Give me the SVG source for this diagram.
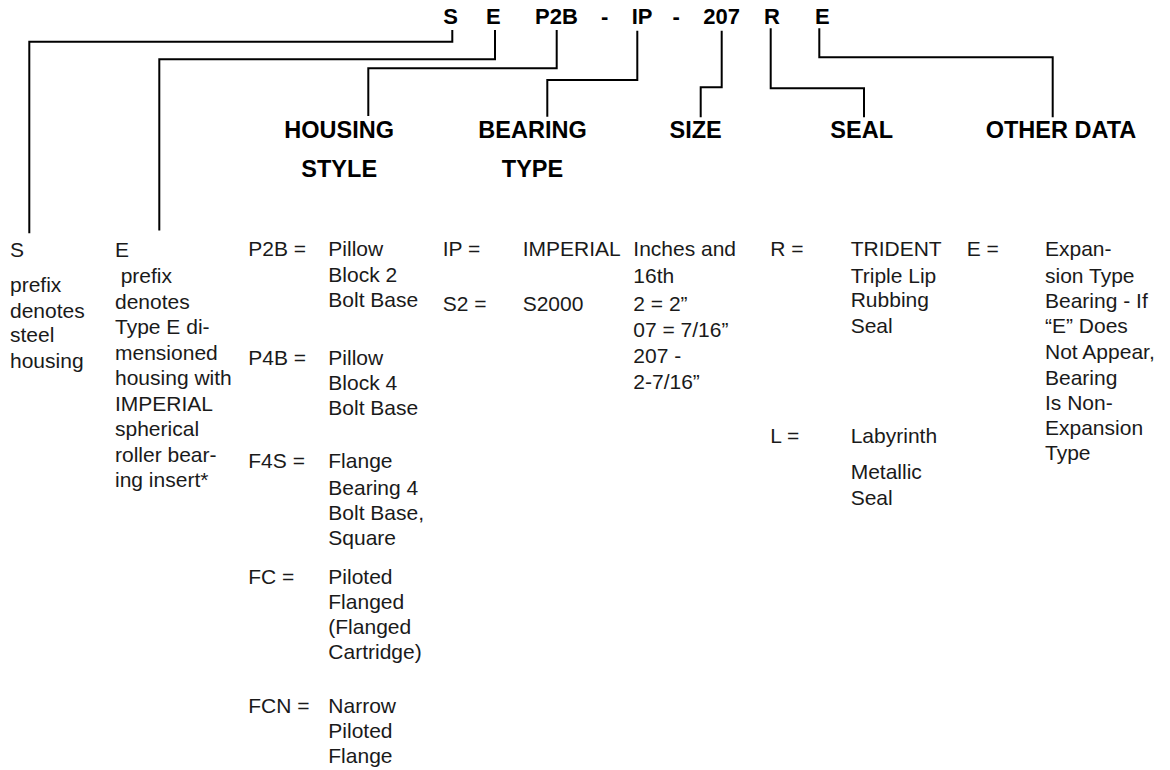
<svg xmlns="http://www.w3.org/2000/svg" width="1170" height="770" viewBox="0 0 1170 770">
<style>
.code{font-family:"Liberation Sans",Arial,sans-serif;font-weight:bold;font-size:22px;fill:#000}
.hd{font-family:"Liberation Sans",Arial,sans-serif;font-weight:bold;font-size:23.5px;fill:#000;text-anchor:middle}
.tx{font-family:"Liberation Sans",Arial,sans-serif;font-size:21px;fill:#1a1a1a}
.ln{fill:none;stroke:#000;stroke-width:2}
</style>
<rect width="1170" height="770" fill="#fff"/>
<g id="code">
<text class="code" x="443.3" y="24">S</text>
<text class="code" x="486" y="24">E</text>
<text class="code" x="535" y="24">P2B</text>
<text class="code" x="601" y="24">-</text>
<text class="code" x="631.7" y="24">IP</text>
<text class="code" x="672.5" y="24">-</text>
<text class="code" x="703.3" y="24">207</text>
<text class="code" x="764" y="24">R</text>
<text class="code" x="815" y="24">E</text>
</g>
<g id="connectors">
<path class="ln" d="M452.3,30 V41.7 H29.3 V233.3"/>
<path class="ln" d="M495,30 V59.3 H159.3 V230.5"/>
<path class="ln" d="M556.7,30 V68.3 H368.3 V116"/>
<path class="ln" d="M637.3,30.7 V80 H547.3 V116.7"/>
<path class="ln" d="M721.7,30.7 V87.3 H700.7 V117.3"/>
<path class="ln" d="M770.7,28.3 V88.3 H864 V117.3"/>
<path class="ln" d="M819.3,28.3 V57.3 H1052.7 V117.3"/>
</g>
<g id="hdr-housing"><text class="hd" x="339.2" y="138">HOUSING</text><text class="hd" x="339.2" y="177">STYLE</text></g>
<g id="hdr-bearing"><text class="hd" x="532.5" y="138">BEARING</text><text class="hd" x="532.5" y="177">TYPE</text></g>
<g id="hdr-size"><text class="hd" x="695.6" y="138">SIZE</text></g>
<g id="hdr-seal"><text class="hd" x="861.7" y="138">SEAL</text></g>
<g id="hdr-other"><text class="hd" x="1061" y="138">OTHER DATA</text></g>
<g id="col-s" class="tx">
<text class="tx" x="10" y="256.7">S</text>
<text class="tx" x="10" y="292.3">prefix</text>
<text class="tx" x="10" y="317.7">denotes</text>
<text class="tx" x="10" y="342.3">steel</text>
<text class="tx" x="10" y="367.7">housing</text>
</g>
<g id="col-e">
<text class="tx" x="115" y="256.7">E</text>
<text class="tx" x="120.7" y="283.3">prefix</text>
<text class="tx" x="115" y="308.8">denotes</text>
<text class="tx" x="115" y="334.3">Type E di-</text>
<text class="tx" x="115" y="359.8">mensioned</text>
<text class="tx" x="115" y="385.3">housing with</text>
<text class="tx" x="115" y="410.8">IMPERIAL</text>
<text class="tx" x="115" y="436.3">spherical</text>
<text class="tx" x="115" y="461.8">roller bear-</text>
<text class="tx" x="115" y="487.3">ing insert*</text>
</g>
<g id="col-housing">
<text class="tx" x="248.3" y="256">P2B =</text>
<text class="tx" x="328.3" y="256">Pillow</text>
<text class="tx" x="328.3" y="281.7">Block 2</text>
<text class="tx" x="328.3" y="307.3">Bolt Base</text>
<text class="tx" x="248.3" y="365">P4B =</text>
<text class="tx" x="328.3" y="365">Pillow</text>
<text class="tx" x="328.3" y="390">Block 4</text>
<text class="tx" x="328.3" y="415">Bolt Base</text>
<text class="tx" x="248.3" y="468.3">F4S =</text>
<text class="tx" x="328.3" y="468.3">Flange</text>
<text class="tx" x="328.3" y="494.5">Bearing 4</text>
<text class="tx" x="328.3" y="520">Bolt Base,</text>
<text class="tx" x="328.3" y="545">Square</text>
<text class="tx" x="248.3" y="584">FC =</text>
<text class="tx" x="328.3" y="584">Piloted</text>
<text class="tx" x="328.3" y="609">Flanged</text>
<text class="tx" x="328.3" y="634">(Flanged</text>
<text class="tx" x="328.3" y="659">Cartridge)</text>
<text class="tx" x="248.3" y="713.3">FCN =</text>
<text class="tx" x="328.3" y="713.3">Narrow</text>
<text class="tx" x="328.3" y="738.3">Piloted</text>
<text class="tx" x="328.3" y="763.3">Flange</text>
</g>
<g id="col-bearing">
<text class="tx" x="442.7" y="256">IP =</text>
<text class="tx" x="522.7" y="256">IMPERIAL</text>
<text class="tx" x="442.7" y="310.7">S2 =</text>
<text class="tx" x="522.7" y="310.7">S2000</text>
</g>
<g id="col-size">
<text class="tx" x="633.3" y="256">Inches and</text>
<text class="tx" x="633.3" y="282.7">16th</text>
<text class="tx" x="633.3" y="310.7">2 = 2”</text>
<text class="tx" x="633.3" y="337.3">07 = 7/16”</text>
<text class="tx" x="633.3" y="362.7">207 -</text>
<text class="tx" x="633.3" y="389.3">2-7/16”</text>
</g>
<g id="col-seal">
<text class="tx" x="770.3" y="256">R =</text>
<text class="tx" x="850.7" y="256">TRIDENT</text>
<text class="tx" x="850.7" y="282.7">Triple Lip</text>
<text class="tx" x="850.7" y="307.3">Rubbing</text>
<text class="tx" x="850.7" y="332.7">Seal</text>
<text class="tx" x="770.3" y="442.7">L =</text>
<text class="tx" x="850.7" y="442.7">Labyrinth</text>
<text class="tx" x="850.7" y="479.3">Metallic</text>
<text class="tx" x="850.7" y="504.5">Seal</text>
</g>
<g id="col-other">
<text class="tx" x="966.7" y="256">E =</text>
<text class="tx" x="1045" y="256">Expan-</text>
<text class="tx" x="1045" y="283.3">sion Type</text>
<text class="tx" x="1045" y="308.3">Bearing - If</text>
<text class="tx" x="1045" y="333.3">“E” Does</text>
<text class="tx" x="1045" y="359.3">Not Appear,</text>
<text class="tx" x="1045" y="385">Bearing</text>
<text class="tx" x="1045" y="410">Is Non-</text>
<text class="tx" x="1045" y="435">Expansion</text>
<text class="tx" x="1045" y="460">Type</text>
</g>
</svg>
